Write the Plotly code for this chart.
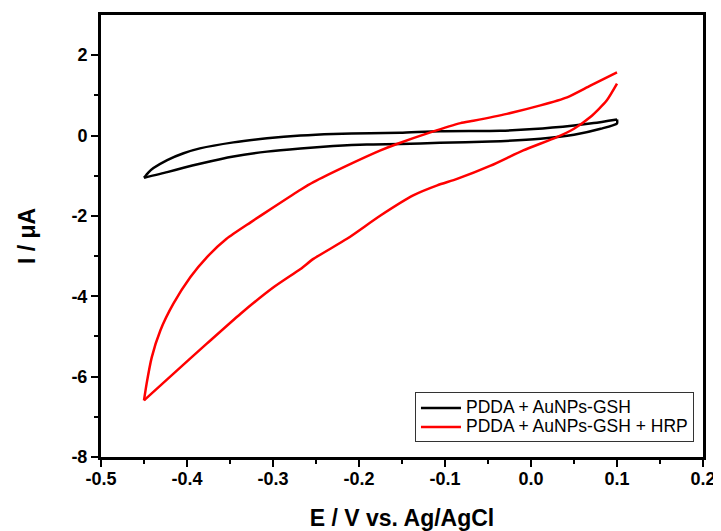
import plotly.graph_objects as go

# Black: PDDA + AuNPs-GSH
e_black_fwd = [-0.450, -0.445, -0.439, -0.423, -0.404, -0.385, -0.346, -0.307, -0.268, -0.230, -0.187, -0.152,
               -0.106, -0.036, 0.003, 0.050, 0.073, 0.100]
i_black_fwd = [-1.05, -0.92, -0.81, -0.61, -0.44, -0.32, -0.17, -0.07, 0.00, 0.04, 0.06, 0.07,
               0.11, 0.12, 0.16, 0.25, 0.31, 0.40]
e_black_rev = [0.100, 0.100, 0.081, 0.050, 0.011, -0.047, -0.106, -0.152, -0.191,
               -0.230, -0.268, -0.307, -0.346, -0.385, -0.404, -0.423, -0.450]
i_black_rev = [0.40, 0.30, 0.17, 0.02, -0.08, -0.15, -0.18, -0.21, -0.22,
               -0.26, -0.32, -0.40, -0.52, -0.70, -0.80, -0.91, -1.05]

# Red: PDDA + AuNPs-GSH + HRP
e_red_rev = [0.100, 0.088, 0.069, 0.050, 0.030, -0.009, -0.047, -0.086, -0.109, -0.137,
             -0.175, -0.214, -0.253, -0.268, -0.299, -0.338, -0.377, -0.416, -0.450]
i_red_rev = [1.29, 0.87, 0.46, 0.17, -0.04, -0.37, -0.75, -1.08, -1.24, -1.49,
             -1.99, -2.57, -3.07, -3.32, -3.77, -4.44, -5.18, -5.93, -6.59]
e_red_fwd = [-0.450, -0.447, -0.441, -0.431, -0.416, -0.396, -0.377, -0.354, -0.326, -0.299, -0.268,
             -0.253, -0.214, -0.175, -0.156, -0.117, -0.082, -0.067, -0.028, 0.011, 0.042, 0.069, 0.100]
i_red_fwd = [-6.59, -6.18, -5.52, -4.85, -4.19, -3.52, -3.03, -2.57, -2.16, -1.78, -1.35,
             -1.16, -0.75, -0.37, -0.21, 0.08, 0.31, 0.37, 0.54, 0.75, 0.95, 1.24, 1.57]

names = ["PDDA + AuNPs-GSH", "PDDA + AuNPs-GSH + HRP"]
colors = ["#000000", "#FF0000"]

x_ticks = [-0.5, -0.4, -0.3, -0.2, -0.1, 0.0, 0.1, 0.2]
x_labels = ["-0.5", "-0.4", "-0.3", "-0.2", "-0.1", "0.0", "0.1", "0.2"]
y_ticks = [-8, -6, -4, -2, 0, 2]
y_labels = ["-8", "-6", "-4", "-2", "0", "2"]

FONT = "Arial, 'Liberation Sans', sans-serif"

fig = go.Figure()
branches = [
    (e_black_fwd, i_black_fwd, 0, True),
    (e_black_rev, i_black_rev, 0, False),
    (e_red_rev, i_red_rev, 1, True),
    (e_red_fwd, i_red_fwd, 1, False),
]
for ex, iy, k, show in branches:
    fig.add_trace(go.Scatter(
        x=ex, y=iy, mode="lines",
        name='<span style="font-size:17.5px">%s</span>' % names[k],
        legendgroup=names[k], showlegend=show,
        line=dict(color=colors[k], width=2.5, shape="spline", smoothing=0.6)))

axis_common = dict(
    showgrid=False, zeroline=False, showline=True, linecolor="black", linewidth=3,
    mirror=True, ticks="outside", ticklen=7, tickwidth=2, tickcolor="black",
    automargin=False,
    tickfont=dict(family=FONT, size=18, color="black"),
)

fig.update_xaxes(range=[-0.5, 0.2], tickvals=x_ticks, ticktext=["<b>%s</b>" % t for t in x_labels],
                 ticklabelstandoff=-4,
                 minor=dict(ticks="outside", ticklen=4, tickwidth=2, dtick=0.05, tickcolor="black"),
                 title=dict(text="<b>E / V vs. Ag/AgCl</b>", font=dict(family=FONT, size=23, color="black"),
                            standoff=26),
                 **axis_common)
fig.update_yaxes(range=[-8, 3], tickvals=y_ticks, ticktext=["<b>%s</b>" % t for t in y_labels],
                 minor=dict(ticks="outside", ticklen=4, tickwidth=2, tickvals=[-7, -5, -3, -1, 1], tickcolor="black"),
                 title=dict(text="<b>I / μA</b>", font=dict(family=FONT, size=23, color="black"),
                            standoff=30),
                 **axis_common)

# page body has an 8px default margin; figure is sized so the plot lands where the reference has it
fig.update_layout(
    template="none",
    width=713, height=523,
    margin=dict(l=93, r=18, t=7, b=74),
    plot_bgcolor="white", paper_bgcolor="white",
    font=dict(family=FONT, color="black"),
    showlegend=True,
    legend=dict(x=0.985, y=0.033, xanchor="right", yanchor="bottom",
                bgcolor="white", bordercolor="#333333", borderwidth=1,
                font=dict(family=FONT, size=12, color="black"),
                itemwidth=40, tracegroupgap=0),
)

fig.write_html("out.html")
